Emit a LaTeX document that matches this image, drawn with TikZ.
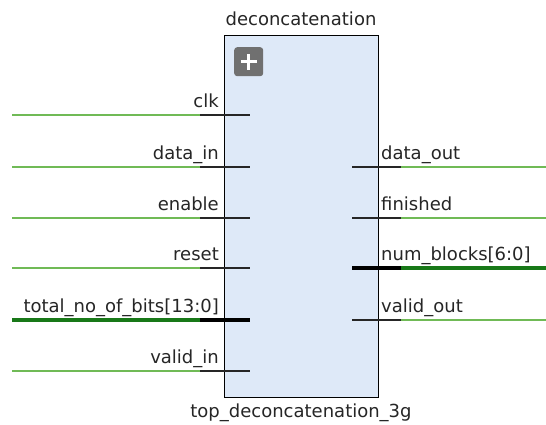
\documentclass[tikz,border=0pt]{standalone}
\usepackage{fontspec}
\setmainfont{DejaVu Sans}
\begin{document}
\begin{tikzpicture}[x=1pt,y=-1pt,
  font=\fontsize{18}{21}\selectfont,
  wire/.style={draw=wiregreen,line width=1.1pt},
  bus/.style={draw=busgreen,line width=4pt},
  stub/.style={draw=black!85,line width=1.1pt},
  busstub/.style={draw=black,line width=4pt},
  lpin/.style={anchor=base east,inner sep=0pt,text=black!85},
  rpin/.style={anchor=base west,inner sep=0pt,text=black!85}]
\definecolor{wiregreen}{RGB}{112,186,86}
\definecolor{busgreen}{RGB}{24,120,24}
\definecolor{blockfill}{RGB}{222,233,248}
\definecolor{plusgray}{RGB}{112,112,112}
\useasboundingbox[fill=white] (0,0) rectangle (546,424);

% block body
\node[draw=black,line width=1.2pt,fill=blockfill,minimum width=154pt,minimum height=362pt,anchor=north west,inner sep=0pt] (blk) at (224,35) {};
\node[anchor=base,inner sep=0pt,text=black!85] (title) at (301,25) {deconcatenation};
\node[anchor=base,inner sep=0pt,text=black!85] (inst) at (301,417) {top\_deconcatenation\_3g};

% expand button
\node[fill=plusgray,rounded corners=3pt,minimum size=29pt,inner sep=0pt,anchor=north west] (plus) at (234,47) {};
\draw[white,line width=3.2pt] ([xshift=-8pt]plus.center) -- ([xshift=8pt]plus.center)
  ([yshift=-8pt]plus.center) -- ([yshift=8pt]plus.center);

% input pins
\foreach \n/\y in {clk/115,din/167,en/218,rst/268,tot/320,vin/371}{
  \coordinate (\n-w) at (12,\y);
  \coordinate (\n-s) at (200,\y);
  \coordinate (\n-e) at (250,\y);
}
\foreach \n in {clk,din,en,rst,vin}{
  \draw[wire] (\n-w) -- (\n-s);
  \draw[stub] (\n-s) -- (\n-e);
}
\draw[bus] (tot-w) -- (tot-s);
\draw[busstub] (tot-s) -- (tot-e);

\node[lpin] (lclk) at (219,107) {clk};
\node[lpin] (ldin) at (219,159) {data\_in};
\node[lpin] (len) at (219,210) {enable};
\node[lpin] (lrst) at (219,260) {reset};
\node[lpin] (ltot) at (219,312) {total\_no\_of\_bits[13:0]};
\node[lpin] (lvin) at (219,363) {valid\_in};

% output pins
\foreach \n/\y in {dout/167,fin/218,nb/268,vout/320}{
  \coordinate (\n-w) at (352,\y);
  \coordinate (\n-s) at (401,\y);
  \coordinate (\n-e) at (546,\y);
}
\foreach \n in {dout,fin,vout}{
  \draw[stub] (\n-w) -- (\n-s);
  \draw[wire] (\n-s) -- (\n-e);
}
\draw[busstub] (nb-w) -- (nb-s);
\draw[bus] (nb-s) -- (nb-e);

\node[rpin] (rdout) at (381,159) {data\_out};
\node[rpin] (rfin) at (381,210) {finished};
\node[rpin] (rnb) at (381,260) {num\_blocks[6:0]};
\node[rpin] (rvout) at (381,312) {valid\_out};
\end{tikzpicture}
\end{document}
